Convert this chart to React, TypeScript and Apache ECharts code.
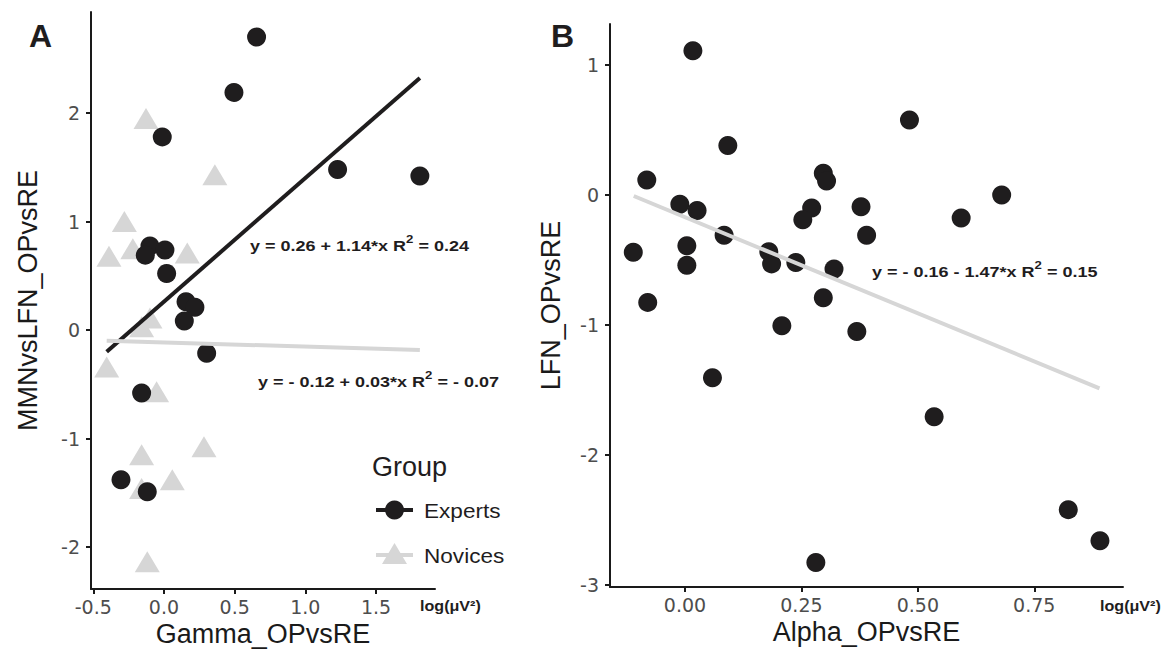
import { useEffect, useRef } from "react";
import * as echarts from "echarts";

// Panel A: Gamma_OPvsRE vs MMNvsLFN_OPvsRE
const expertsGammaX = [0.655, 0.495, -0.012, 1.228, 1.81, -0.099, -0.132, 0.007, 0.019, 0.156, 0.219, 0.144, 0.302, -0.158, -0.304, -0.118];
const expertsMmnY = [2.70, 2.19, 1.78, 1.48, 1.42, 0.774, 0.69, 0.737, 0.52, 0.26, 0.21, 0.083, -0.215, -0.58, -1.38, -1.49];
const novicesGammaX = [-0.127, 0.36, -0.28, -0.22, -0.389, 0.165, -0.099, -0.158, -0.405, -0.052, 0.283, -0.158, 0.059, -0.158, -0.118];
const novicesMmnY = [1.95, 1.43, 1.0, 0.75, 0.68, 0.71, 0.11, 0.03, -0.34, -0.57, -1.075, -1.15, -1.38, -1.46, -2.135];
const expertsFitX = [-0.405, 1.81];
const expertsFitY = [-0.2, 2.323];
const novicesFitX = [-0.405, 1.81];
const novicesFitY = [-0.099, -0.184];
const gammaTicks = [-0.5, 0, 0.5, 1.0, 1.5];
const mmnTicks = [-2, -1, 0, 1, 2];

// Panel B: Alpha_OPvsRE vs LFN_OPvsRE
const alphaX = [0.017, 0.092, -0.082, -0.011, 0.026, 0.297, 0.304, 0.272, 0.253, 0.378, 0.39, 0.084, -0.111, 0.004, 0.004, 0.18, 0.186, 0.238, 0.32, -0.08, 0.297, 0.482, 0.68, 0.593, 0.369, 0.208, 0.059, 0.281, 0.535, 0.823, 0.891];
const lfnY = [1.11, 0.38, 0.115, -0.072, -0.12, 0.167, 0.108, -0.10, -0.19, -0.09, -0.31, -0.31, -0.44, -0.39, -0.54, -0.436, -0.53, -0.52, -0.57, -0.826, -0.79, 0.577, 0.0, -0.177, -1.05, -1.005, -1.405, -2.826, -1.705, -2.42, -2.66];
const alphaFitX = [-0.11, 0.89];
const alphaFitY = [-0.008, -1.487];
const alphaTicks = [0, 0.25, 0.5, 0.75];
const lfnTicks = [-3, -2, -1, 0, 1];

const BLACK = "#1f1d1e";
const GREY = "#d6d6d6";
const AXIS = "#1a1a1a";
const TICKLBL = "#4d4d4d";
const FONT = "'Liberation Sans', Arial, Helvetica, sans-serif";
const TICKFONT = "'DejaVu Sans', 'Liberation Sans', sans-serif";

const zip = (xs: number[], ys: number[]) => xs.map((x, i) => [x, ys[i]]);

function axisBase(ticks: number[], fmt: (v: number) => string, isX: boolean) {
  return {
    type: "value",
    splitLine: { show: false },
    axisLine: { show: true, onZero: false, lineStyle: { color: AXIS, width: 2 } },
    axisTick: { show: true, length: 5, customValues: ticks, lineStyle: { color: AXIS, width: 2 } },
    axisLabel: {
      customValues: ticks,
      formatter: (v: number) => fmt(v),
      color: TICKLBL,
      fontSize: 19,
      fontFamily: TICKFONT,
      margin: isX ? 8 : 11,
    },
    nameLocation: "middle",
    nameTextStyle: { color: AXIS, fontSize: 27, fontFamily: FONT },
  };
}

const fmt1 = (v: number) => (Math.abs(v) < 1e-9 ? "0.0" : v.toFixed(1));
const fmtInt = (v: number) => String(Math.round(v));
const fmt2 = (v: number) => (Math.abs(v) < 1e-9 ? "0.00" : v.toFixed(2));

function eqText(left: string, right: string, x: number, y: number) {
  return {
    type: "text",
    x,
    y,
    scaleX: 1.2,
    style: {
      text: `{b|${left}}{s|2}{b|${right}}`,
      fill: BLACK,
      verticalAlign: "middle",
      rich: {
        b: { fontSize: 15, fontWeight: "bold", fontFamily: FONT, fill: BLACK, lineHeight: 20, verticalAlign: "bottom" },
        s: { fontSize: 11, fontWeight: "bold", fontFamily: FONT, fill: BLACK, lineHeight: 20, verticalAlign: "top" },
      },
    },
  };
}

export default function App() {
  const ref = useRef<HTMLDivElement>(null);
  useEffect(() => {
    if (!ref.current) return;
    const chart = echarts.init(ref.current, undefined, { renderer: "svg" });
    const option: any = {
      animation: false,
      backgroundColor: "#ffffff",
      grid: [
        { left: 91, top: 12, width: 344, height: 577 },
        { left: 610, top: 24, width: 513, height: 563 },
      ],
      xAxis: [
        { ...axisBase(gammaTicks, fmt1, true), gridIndex: 0, min: -0.516, max: 1.917, name: "Gamma_OPvsRE", nameGap: 29 },
        { ...axisBase(alphaTicks, fmt2, true), gridIndex: 1, min: -0.161, max: 0.9405, name: "Alpha_OPvsRE", nameGap: 29 },
      ],
      yAxis: [
        { ...axisBase(mmnTicks, fmtInt, false), gridIndex: 0, min: -2.387, max: 2.931, name: "MMNvsLFN_OPvsRE", nameGap: 50 },
        { ...axisBase(lfnTicks, fmtInt, false), gridIndex: 1, min: -3.015, max: 1.315, name: "LFN_OPvsRE", nameGap: 46 },
      ],
      series: [
        {
          name: "Novices",
          type: "scatter",
          xAxisIndex: 0,
          yAxisIndex: 0,
          symbol: "triangle",
          symbolSize: [25, 21],
          itemStyle: { color: GREY, opacity: 1 },
          data: zip(novicesGammaX, novicesMmnY),
          z: 2,
        },
        {
          name: "Experts",
          type: "scatter",
          xAxisIndex: 0,
          yAxisIndex: 0,
          symbol: "circle",
          symbolSize: 19,
          itemStyle: { color: BLACK, opacity: 1 },
          data: zip(expertsGammaX, expertsMmnY),
          z: 3,
        },
        {
          name: "Experts fit",
          type: "line",
          xAxisIndex: 0,
          yAxisIndex: 0,
          showSymbol: false,
          symbol: "none",
          lineStyle: { color: BLACK, width: 4 },
          data: zip(expertsFitX, expertsFitY),
          z: 4,
        },
        {
          name: "Novices fit",
          type: "line",
          xAxisIndex: 0,
          yAxisIndex: 0,
          showSymbol: false,
          symbol: "none",
          lineStyle: { color: GREY, width: 4 },
          data: zip(novicesFitX, novicesFitY),
          z: 4,
        },
        {
          name: "Alpha",
          type: "scatter",
          xAxisIndex: 1,
          yAxisIndex: 1,
          symbol: "circle",
          symbolSize: 19,
          itemStyle: { color: BLACK, opacity: 1 },
          data: zip(alphaX, lfnY),
          z: 3,
        },
        {
          name: "Alpha fit",
          type: "line",
          xAxisIndex: 1,
          yAxisIndex: 1,
          showSymbol: false,
          symbol: "none",
          lineStyle: { color: GREY, width: 4 },
          data: zip(alphaFitX, alphaFitY),
          z: 4,
        },
      ],
      graphic: [
        { type: "text", x: 29, y: 36, style: { text: "A", fontSize: 32, fontWeight: "bold", fontFamily: FONT, fill: BLACK, verticalAlign: "middle" } },
        { type: "text", x: 551, y: 36, style: { text: "B", fontSize: 32, fontWeight: "bold", fontFamily: FONT, fill: BLACK, verticalAlign: "middle" } },
        eqText("y = 0.26 + 1.14*x R", " = 0.24", 250, 244),
        eqText("y = - 0.12 + 0.03*x R", " = - 0.07", 258, 380),
        eqText("y = - 0.16 - 1.47*x R", " = 0.15", 872, 270),
        { type: "text", x: 420, y: 606, scaleX: 1.15, style: { text: "log(μV²)", fontSize: 14, fontWeight: "bold", fontFamily: FONT, fill: BLACK, verticalAlign: "middle" } },
        { type: "text", x: 1100, y: 606, scaleX: 1.15, style: { text: "log(μV²)", fontSize: 14, fontWeight: "bold", fontFamily: FONT, fill: BLACK, verticalAlign: "middle" } },
        // Legend
        { type: "text", x: 372, y: 467, style: { text: "Group", fontSize: 27, fontFamily: FONT, fill: BLACK, verticalAlign: "middle" } },
        { type: "line", shape: { x1: 376, y1: 510, x2: 413, y2: 510 }, style: { stroke: BLACK, lineWidth: 4 } },
        { type: "circle", shape: { cx: 394.5, cy: 510, r: 9.5 }, style: { fill: BLACK } },
        { type: "text", x: 424, y: 511, scaleX: 1.13, style: { text: "Experts", fontSize: 20, fontFamily: FONT, fill: BLACK, verticalAlign: "middle" } },
        { type: "line", shape: { x1: 376, y1: 555, x2: 413, y2: 555 }, style: { stroke: GREY, lineWidth: 4 } },
        { type: "polygon", shape: { points: [[382, 564], [407, 564], [394.5, 543]] }, style: { fill: GREY } },
        { type: "text", x: 424, y: 556, scaleX: 1.13, style: { text: "Novices", fontSize: 20, fontFamily: FONT, fill: BLACK, verticalAlign: "middle" } },
      ],
    };
    chart.setOption(option);
    return () => chart.dispose();
  }, []);
  return (
    <div
      ref={ref}
      style={{ position: "fixed", left: 0, top: 0, width: 1168, height: 659, background: "#fff" }}
    />
  );
}
